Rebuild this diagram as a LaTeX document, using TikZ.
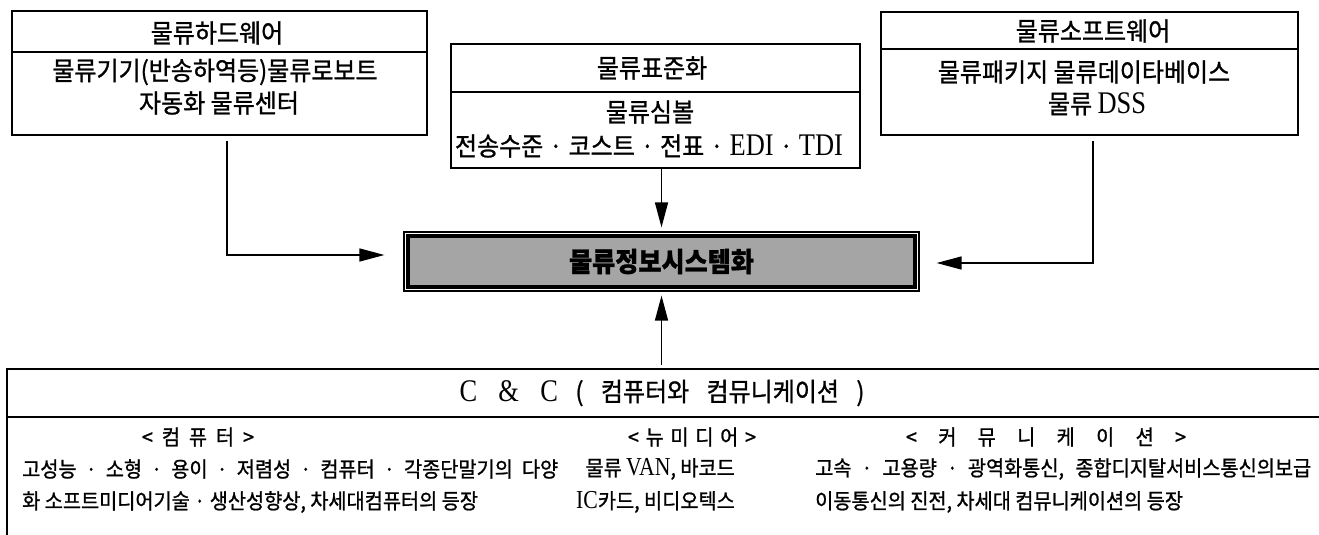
\documentclass[tikz,border=0pt]{standalone}
\usepackage{fontspec}
\setmainfont{Noto Sans CJK KR}[FakeStretch=0.93,FakeBold=1.0]
\newfontfamily\lat{Liberation Serif}[FakeStretch=0.84,Scale=1.22]
\usetikzlibrary{arrows.meta}
\newcommand\fitto[2]{\makebox[#1][s]{#2}}
\definecolor{infogray}{RGB}{165,165,165}
\begin{document}
\begin{tikzpicture}[x=1pt,y=-1pt,
  box/.style={draw, line width=1.4pt, inner sep=0pt},
  ttxt/.style={inner sep=0pt, font=\fontsize{25.8}{28}\selectfont},
  btxt/.style={inner sep=0pt, font=\fontsize{21.2}{23}\selectfont},
  conn/.style={line width=1.4pt, -{Triangle[length=25pt,width=13pt]}},
  divider/.style={line width=1.4pt},
  outerframe/.style={draw, line width=1.2pt, inner sep=0pt, minimum width=515pt, minimum height=59pt},
  innerframe/.style={draw, line width=3.6pt, fill=infogray},
  infotxt/.style={inner sep=0pt, font=\fontsize{27}{29}\selectfont\bfseries}]
\useasboundingbox (0,0) rectangle (1319,535);

% ---------- top boxes ----------
\node[box, minimum width=415pt, minimum height=124pt] (hw) at (219.5,73) {};
\draw[divider] (hw.west |- 0,52) -- (hw.east |- 0,52);
\node[ttxt] (hwt) at (217,33) {물류하드웨어};
\node[ttxt] (hw1) at (215,72) {물류기기(반송하역등)물류로보트};
\node[ttxt] (hw2) at (219,103) {자동화 물류센터};

\node[box, minimum width=409pt, minimum height=124pt] (std) at (655.5,106) {};
\draw[divider] (std.west |- 0,92) -- (std.east |- 0,92);
\node[ttxt] (stdt) at (652,68) {물류표준화};
\node[ttxt] (std1) at (650,112) {물류심볼};
\node[ttxt] (std2) at (649,146) {\fitto{388pt}{전송수준 · 코스트 · 전표 · {\lat EDI} · {\lat TDI}}};

\node[box, minimum width=417pt, minimum height=123pt] (sw) at (1089.5,73.5) {};
\draw[divider] (sw.west |- 0,49) -- (sw.east |- 0,49);
\node[ttxt] (swt) at (1093,31) {물류소프트웨어};
\node[ttxt] (sw1) at (1084,72) {물류패키지 물류데이타베이스};
\node[ttxt] (sw2) at (1097,104) {물류 {\lat DSS}};

% ---------- central box ----------
\node[outerframe] (info) at (661.5,261.5) {};
\draw[innerframe] ([shift={(4.6pt,4.6pt)}]info.south west) rectangle ([shift={(-4.6pt,-4.6pt)}]info.north east);
\node[infotxt] (infot) at (info.center) {물류정보시스템화};

% ---------- bottom frame ----------
\coordinate (cctl) at (7,369);
\coordinate (cctr) at (1319,369);
\coordinate (ccbl) at (7,535);
\coordinate (ccdl) at (7,417);
\coordinate (ccdr) at (1319,417);
\coordinate (cctop) at (661.5,369);
\draw[divider] (cctr) -- (cctl) -- (ccbl);
\draw[divider] (ccdl) -- (ccdr);
\node[ttxt] (cct) at (662,393) {\fitto{405pt}{{\lat C \& C} ( 컴퓨터와 컴뮤니케이션 )}};

\node[btxt] (lab1) at (198,437) {\fitto{112pt}{< 컴 퓨 터 >}};
\node[btxt] (lab2) at (692,437) {\fitto{128pt}{< 뉴 미 디 어 >}};
\node[btxt] (lab3) at (1046,437) {\fitto{280pt}{< 커 뮤 니 케 이 션 >}};

\node[btxt, anchor=west] (c1) at (22,469) {\fitto{536pt}{고성능 · 소형 · 용이 · 저렴성 · 컴퓨터 · 각종단말기의 다양}};
\node[btxt, anchor=west] (c2) at (22,502) {화 소프트미디어기술 · 생산성향상, 차세대컴퓨터의 등장};
\node[btxt, anchor=east] (m1) at (735,469) {물류 {\lat VAN}, 바코드};
\node[btxt, anchor=east] (m2) at (735,502) {{\lat IC}카드, 비디오텍스};
\node[btxt, anchor=west] (r1) at (815,469) {\fitto{496pt}{고속 · 고용량 · 광역화통신, 종합디지탈서비스통신의보급}};
\node[btxt, anchor=west] (r2) at (815,502) {이동통신의 진전, 차세대 컴뮤니케이션의 등장};

% ---------- connectors ----------
\coordinate (hwx) at (227,0);
\coordinate (swx) at (1093,0);
\draw[conn, shorten <=5pt, shorten >=19pt] (hwx |- hw.south) |- ([yshift=6.5pt]info.west);
\draw[conn, shorten <=5pt, shorten >=17pt] (swx |- sw.south) |- ([yshift=-1.5pt]info.east);
\draw[conn, shorten >=4pt] (std.south -| info.north) -- (info.north);
\draw[conn, shorten <=4pt, shorten >=4pt] (cctop) -- (info.south);
\end{tikzpicture}
\end{document}
